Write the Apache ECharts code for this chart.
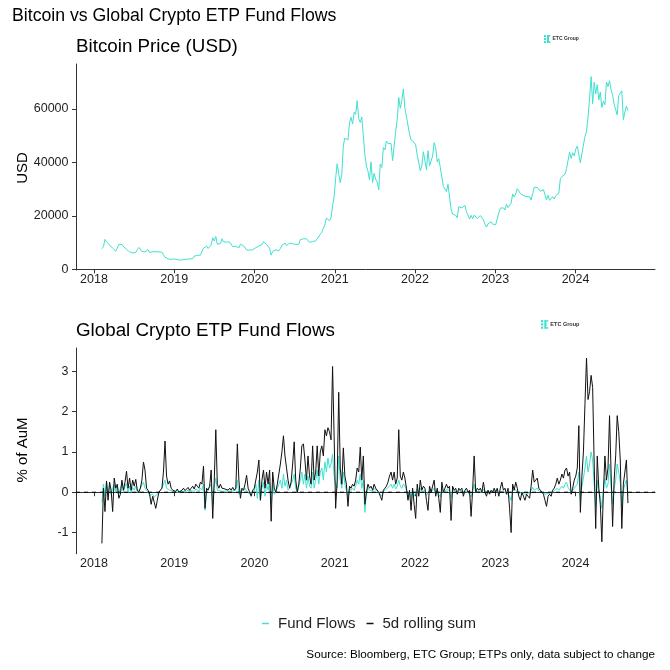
<!DOCTYPE html>
<html><head><meta charset="utf-8">
<script src="https://cdn.jsdelivr.net/npm/echarts@6/dist/echarts.min.js"></script>
<style>html,body{margin:0;padding:0;background:#fff}#c{width:670px;height:670px}</style>
</head><body><div id="c"></div>
<script>
// ---- Data (weekly samples) ----
const yearStarts = ['2018-02-06','2019-01-01','2020-01-07','2021-01-05','2022-01-04','2023-01-03','2024-01-02'];

// Bitcoin price, USD
const btc2018 = [7700,8500,11200,10300, 10700,9100,8900,7900, 7400,6800,8000,9300, 9200,9300,8500,8000,7500, 7600,6500,6700,6100, 6600,6300,7400,8200,7700, 6700,6300,6500,7000, 7400,6300,6400,6600, 6600,6600,6500,6500,6300, 6400,6300,4500,3800, 3900,3400,3700,3900];
const btc2019 = [3900,4000,3600,3600,3450, 3400,3600,3900,3800, 3800,3900,4000,3950, 4900,5200,5200,5400,5300, 5800,7900,7900,8700, 7800,8000,9100,11800, 10600,12300,9400,9800,9600, 11400,10300,10800,10200, 10600,10200,10200,8500, 8300,8600,8200,8000,9400, 9300,8800,8100,7200, 7400,7200,6700,7300,7200];
const btc2020 = [8100,8800,8700,9300, 9200,10300,10200,9300, 8800,7900,5300,6700,6400, 7300,6900,6900,7800, 9000,8800,9800,8900, 9500,9800,9500,9600,9100, 9300,9200,9400,11100, 11200,11400,11900,11400, 11900,10100,10800,10400,10800, 10600,11400,11900,13100, 13900,15300,16700,19200, 19000,18200,19400,23800,27000];
const btc2021 = [34000,39500,35800,32400, 35500,46400,49100,48600, 48400,54800,56900,54400,58800, 58000,63100,56400,55000, 57000,56700,42900,38700, 36700,33500,40200,32500,35900, 33700,32700,29800,39400, 38100,45600,44700,48000,47100, 46800,47100,40700,41000, 51500,56000,64300,60300, 63200,67500,60300,57100,57000, 50600,48400,49000,47500];
const btc2022 = [46500,42700,42300,36900, 38700,44000,44500,37300, 44400,38700,39300,42400,47400, 45500,40100,41400,38100, 38500,31000,30400,29100,31800, 31100,22500,20700,20300, 20200,19300,23400,22900, 23000,23100,23900,21500,20300, 18800,20200,18900,20300, 20300,19000,19300,20100, 20500,18500,16900,15800,17000, 17100,17800,16900,16700];
const btc2023 = [16700,17400,21100,22900,23100, 23000,22200,24300,23100, 22400,24700,28200,27100, 28200,30200,29400,28300, 28700,27600,27000,27200,27700, 27200,25900,28300,30700, 31000,30600,29900,29200, 29700,29800,29200,26000,27700, 25800,26200,27200,26300, 27500,27400,28500,33900,34700, 35400,35600,37700,37800, 43800,41500,43600,42500];
const btc2024 = [45000,46100,42800,39900,43300, 42700,49700,51700,57000, 63800,72100,62000,70000, 65600,69100,63400,66400,60600, 62900,61600,70100,68400, 70600,67300,65100,61800, 62100,57800,65000,65900,66800, 56000,58900,61100,59400];

// Global crypto ETP fund flows, % of AuM
const flow2018 = [-0.25,0.2,-0.1,0.25,0.0,0.15,-0.05,0.1,0.2,0.0, 0.15,-0.05,0.1,0.2,0.0,0.15,0.22,0.0,0.15,0.0, 0.12,0.05,0.15,0.0,0.05,0.1,0.18,0.25,0.1,0.05, 0.0,-0.08,-0.1,-0.05,-0.12,-0.15,-0.05,0.0,0.05,0.1, 0.2,0.3,0.1,0.12,0.05,0.08,0.02];
const flow2019 = [0.02,0.01,0.03,0.0,0.02,0.02,0.04,0.01,0.03,0.05,0.02,0.04,0.06,0.02,0.08, 0.05,0.03,0.1,0.05,0.2,-0.45,0.0,0.08,0.05,0.2,-0.3,0.15,0.35,0.05,0.04, 0.03,0.05,0.02,0.04,0.03,0.05,0.02,0.04,0.03,0.05,0.05,0.3,-0.05,0.03,0.02, 0.05,0.1,0.03,0.02,-0.05,0.0,0.02,0.03];
const flow2020 = [0.2,-0.15,0.3,-0.2,0.1,0.25,-0.1,0.2,0.05,0.25,-0.3,0.2,-0.05, 0.0,0.1,0.2,0.3,0.1,0.45,0.15,0.3,0.05,0.1,0.2,0.3,0.45, 0.1,0.0,0.15,0.3,0.5,0.2,0.45,0.1,0.4,0.15,0.1,0.5,0.1, 0.3,0.55,0.2,0.5,0.6,0.3,0.75,0.5,0.85,0.6,0.7,0.95,0.4];
const flow2021 = [0.2,0.1,0.9,0.3,0.1,0.5,0.2,0.05,-0.15,0.1,0.05,0.1,0.05, 0.15,0.3,0.2,0.45,0.1,0.3,-0.5,0.0,0.1,0.05,0.08,0.02,0.1, 0.05,0.05,0.0,-0.05,-0.1,0.02,0.05,0.08,0.1,0.15,0.2,0.1,0.2, 0.08,0.15,0.3,0.15,0.1,0.2,0.15,0.05,-0.1,0.02,-0.15,0.05,-0.1];
const flow2022 = [-0.1,0.08,-0.05,0.1,0.02,0.05,0.04,-0.08,-0.12,0.05,0.0,0.03,0.1, -0.05,0.04,-0.05,-0.12,0.08,0.0,0.04,0.06,0.03,0.05,-0.15,0.05,0.02, 0.03,-0.02,0.04,0.02,0.03,-0.04,0.02,0.03,0.0,0.02,-0.12,0.02,0.2, 0.0,0.03,0.02,0.04,0.0,0.08,0.0,-0.04,0.02,-0.02,0.02,0.0,0.03];
const flow2023 = [0.0,0.03,-0.03,0.02,0.06,0.01,0.03,-0.02,0.02,-0.1,-0.2,0.05,0.01, 0.06,0.02,-0.03,-0.05,0.0,-0.03,-0.05,-0.01,-0.03,-0.04,0.04,0.12,0.05, 0.08,0.1,0.03,0.01,0.0,-0.02,-0.05,-0.08,-0.03,-0.01,-0.02,0.02,0.03,0.06,0.1,0.05, 0.08,0.15,0.1,0.2,0.25,0.12,0.15,0.0,0.05,0.1];
const flow2024 = [0.1,0.2,0.5,-0.2,0.15,0.35,0.6,0.9,0.5,0.7, 1.0,0.8,0.2,-0.35,0.3,0.0,-0.1,-0.4,0.05,0.35, 0.1,0.2,0.7,0.15,-0.3,0.1,0.3,0.7,0.5,0.25, -0.35,0.05,0.2,0.3,-0.1];

// 5-day rolling sum of flows, % of AuM
const roll2018 = [-1.27,0.1,-0.48,0.28,-0.2,0.25,0.05,-0.48,0.35,0.1, 0.2,-0.15,-0.05,0.3,0.05,0.25,0.52,0.1,0.35,0.05, 0.3,0.15,0.32,0.05,0.0,0.1,0.3,0.75,0.55,0.1, 0.05,-0.05,-0.3,-0.1,-0.25,-0.4,-0.2,0.0,0.05,0.1, 0.5,1.27,0.4,0.2,0.28,0.1,0.05];
const roll2019 = [0.05,0.02,0.08,0.0,0.03,0.05,0.1,0.04,0.06,0.12,0.05,0.1,0.15,0.08,0.2, 0.15,0.1,0.25,0.2,0.65,-0.4,0.1,0.05,0.15,0.55,-0.65,0.3,1.55,0.2,0.1, 0.2,0.1,0.12,0.08,0.1,0.05,0.1,0.05,0.12,0.05,0.1,1.2,0.3,-0.15,0.1, 0.05,0.2,0.42,0.1,0.0,-0.1,0.05,0.1];
const roll2020 = [0.3,0.5,0.8,-0.2,0.3,0.55,0.1,0.5,0.2,0.55,-0.72,0.5,0.1, 0.0,0.2,0.45,0.7,1.0,1.4,0.9,0.6,0.3,0.1,0.25,0.7,1.25, 0.3,0.0,0.2,0.6,1.15,1.2,0.8,0.3,0.9,0.4,0.2,1.15,0.3, 0.5,1.15,0.4,1.0,1.15,0.9,1.55,1.4,1.6,1.5,1.3,3.12,1.4];
const roll2021 = [-0.4,0.3,2.48,0.6,0.2,1.1,0.4,0.2,-0.35,0.15,0.1,0.2,0.15, 0.3,0.6,0.5,1.12,0.3,0.9,-0.3,0.0,0.2,0.1,0.15,0.05,0.2, 0.1,0.1,0.0,-0.1,-0.2,0.05,0.1,0.15,0.25,0.4,0.5,0.3,0.5, 0.2,0.35,1.55,0.4,0.3,0.5,0.35,0.1,-0.2,0.05,-0.45,0.1,-0.3];
const roll2022 = [-0.65,0.2,-0.1,0.3,0.05,0.15,0.1,-0.2,-0.45,0.15,0.0,0.0,0.3,-0.1, 0.1,-0.15,-0.5,0.25,0.0,0.1,0.2,0.1,0.15,-0.7,0.15,0.05, 0.1,-0.05,0.1,0.05,0.1,-0.1,0.05,0.1,0.0,0.05,-0.6,0.05,0.9, 0.0,0.1,0.05,0.1,0.0,0.25,0.0,-0.1,0.05,-0.05,0.05,0.0,0.1];
const roll2023 = [0.0,0.1,-0.1,0.1,0.25,0.05,0.1,-0.05,0.1,-0.4,-1.0,0.2,0.05, 0.25,0.1,-0.1,-0.2,0.0,-0.1,-0.2,-0.05,-0.1,-0.15,0.15,0.55,0.25, 0.3,0.35,0.1,0.05,0.0,-0.05,-0.2,-0.35,-0.1,-0.05,-0.1,0.05,0.1,0.2,0.35,0.2, 0.3,0.45,0.35,0.55,0.6,0.4,0.5,-0.05,0.1,0.3];
const roll2024 = [0.4,0.6,1.65,-0.5,0.4,1.0,2.2,3.33,2.3,2.5, 2.9,2.6,0.7,-0.9,0.9,0.1,-0.3,-1.23,0.0,0.9, 0.3,0.6,1.9,0.5,-0.85,0.3,0.9,1.9,1.5,0.8, -0.9,0.2,0.5,0.8,-0.27];

// Axis ticks and range
const yearTicks = [2018,2019,2020,2021,2022,2023,2024];
const priceTicks = [0,20000,40000,60000];
const flowTicks = [-1,0,1,2,3];
const xMin = 2017.776, xMax = 2024.99;
const zeroLevel = 0;

// ---- helpers ----
function weekPoints(startStr, vals){
  const p = startStr.split('-').map(Number);
  const t0 = Date.UTC(p[0], p[1]-1, p[2]);
  return vals.map((v,i)=>{
    const t = t0 + i*7*864e5;
    const yr = new Date(t).getUTCFullYear();
    const a = Date.UTC(yr,0,1), b = Date.UTC(yr+1,0,1);
    return [yr + (t-a)/(b-a), v];
  });
}
function build(arrs){
  let out = [];
  arrs.forEach((a,k)=>{ out = out.concat(weekPoints(yearStarts[k], a)); });
  return out;
}
const btcData = build([btc2018,btc2019,btc2020,btc2021,btc2022,btc2023,btc2024]);
const flowData = build([flow2018,flow2019,flow2020,flow2021,flow2022,flow2023,flow2024]);
const rollData = build([roll2018,roll2019,roll2020,roll2021,roll2022,roll2023,roll2024]);

const FONT = '"Liberation Sans", Arial, sans-serif';
const TEAL = '#40E0D0';
const AX = '#333333';
const LBL = '#1f1f1f';

function xAxisCfg(gi){
  return {
    type:'value', gridIndex:gi, min:xMin, max:xMax,
    axisLine:{show:true, lineStyle:{color:AX, width:1}},
    axisTick:{show:true, length:4, customValues:yearTicks, lineStyle:{color:AX, width:1}},
    axisLabel:{show:true, customValues:yearTicks, margin:3, fontSize:12.5, color:LBL, fontFamily:FONT, formatter:v=>String(Math.round(v))},
    splitLine:{show:false}
  };
}
function yAxisCfg(gi, mn, mx, ticks){
  return {
    type:'value', gridIndex:gi, min:mn, max:mx,
    axisLine:{show:true, lineStyle:{color:AX, width:1}},
    axisTick:{show:true, length:4, customValues:ticks, lineStyle:{color:AX, width:1}},
    axisLabel:{show:true, customValues:ticks, margin:7.5, fontSize:12.5, color:LBL, fontFamily:FONT, formatter:v=>String(Math.round(v))},
    splitLine:{show:false}
  };
}

function logo(x, y, s){
  const c = TEAL;
  return {
    type:'group', x:x, y:y, silent:true,
    children:[
      {type:'rect', shape:{x:0, y:0, width:2*s, height:2*s}, style:{fill:c}},
      {type:'rect', shape:{x:0, y:3*s, width:2*s, height:2*s}, style:{fill:c}},
      {type:'rect', shape:{x:0, y:6*s, width:2*s, height:2*s}, style:{fill:c}},
      {type:'rect', shape:{x:3*s, y:0, width:2*s, height:8*s}, style:{fill:c}},
      {type:'rect', shape:{x:5*s, y:0, width:1.5*s, height:1.5*s}, style:{fill:c}},
      {type:'rect', shape:{x:5*s, y:6.5*s, width:1.5*s, height:1.5*s}, style:{fill:c}},
      {type:'text', x:8.5*s, y:4*s, style:{text:'ETC Group', fill:'#333', font:'bold '+(5*s)+'px '+FONT, textVerticalAlign:'middle'}}
    ]
  };
}

const chart = echarts.init(document.getElementById('c'), null, {renderer:'canvas'});
chart.setOption({
  animation:false,
  backgroundColor:'#fff',
  textStyle:{fontFamily:FONT},
  grid:[
    {left:76, right:15, top:64, height:206},
    {left:76, right:15, top:348, height:205.7}
  ],
  xAxis:[xAxisCfg(0), xAxisCfg(1)],
  yAxis:[yAxisCfg(0,-262,76840,priceTicks), yAxisCfg(1,-1.525,3.578,flowTicks)],
  legend:{
    data:['Fund Flows','5d rolling sum'],
    left:257, top:611, icon:'rect', itemWidth:7, itemHeight:1.5, itemGap:11,
    textStyle:{fontSize:15, color:LBL, fontFamily:FONT, padding:[0,0,0,4]},
    selectedMode:false
  },
  series:[
    {name:'Bitcoin Price', type:'line', xAxisIndex:0, yAxisIndex:0, data:btcData, showSymbol:false, symbol:'none',
     lineStyle:{color:TEAL, width:1}, itemStyle:{color:TEAL}, silent:true},
    {name:'Fund Flows', type:'line', xAxisIndex:1, yAxisIndex:1, data:flowData, showSymbol:false, symbol:'none',
     lineStyle:{color:TEAL, width:1}, itemStyle:{color:TEAL}, silent:true, z:2},
    {name:'5d rolling sum', type:'line', xAxisIndex:1, yAxisIndex:1, data:rollData, showSymbol:false, symbol:'none',
     lineStyle:{color:'#111', width:1}, itemStyle:{color:'#111'}, silent:true, z:3},
    {name:'zero', type:'line', xAxisIndex:1, yAxisIndex:1, data:[[xMin,zeroLevel],[xMax,zeroLevel]], showSymbol:false, symbol:'none',
     lineStyle:{color:'#000', width:1, type:[4,4]}, silent:true, z:4}
  ],
  graphic:[
    {type:'text', x:12, y:16, silent:true, style:{text:'Bitcoin vs Global Crypto ETP Fund Flows', fill:'#000', font:'17.7px '+FONT, textVerticalAlign:'middle'}},
    {type:'text', x:76, y:47, silent:true, style:{text:'Bitcoin Price (USD)', fill:'#000', font:'18.8px '+FONT, textVerticalAlign:'middle'}},
    {type:'text', x:76, y:331, silent:true, style:{text:'Global Crypto ETP Fund Flows', fill:'#000', font:'18.8px '+FONT, textVerticalAlign:'middle'}},
    {type:'text', x:22.5, y:168, rotation:Math.PI/2, silent:true, style:{text:'USD', fill:'#000', font:'15px '+FONT, textAlign:'center', textVerticalAlign:'middle'}},
    {type:'text', x:23, y:450, rotation:Math.PI/2, silent:true, style:{text:'% of AuM', fill:'#000', font:'15px '+FONT, textAlign:'center', textVerticalAlign:'middle'}},
    {type:'text', x:655, y:655, silent:true, style:{text:'Source: Bloomberg, ETC Group; ETPs only, data subject to change', fill:'#000', font:'11.7px '+FONT, textAlign:'right', textVerticalAlign:'middle'}},
    logo(544, 35, 1),
    logo(541, 320, 1.1)
  ]
});
</script>
</body></html>
